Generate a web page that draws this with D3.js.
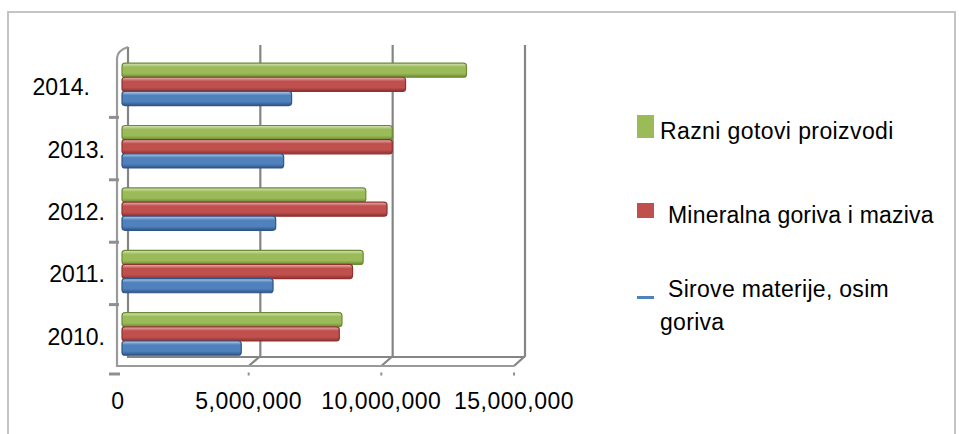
<!DOCTYPE html>
<html>
<head>
<meta charset="utf-8">
<script src="https://cdn.jsdelivr.net/npm/d3@7"></script>
<style>
  body { margin: 0; background: #fff; }
  text { font-family: "Liberation Sans", Arial, sans-serif; fill: #000; }
</style>
</head>
<body>
<svg id="chart" width="959" height="434"></svg>
<script>
// chart values
const years = ["2010.", "2011.", "2012.", "2013.", "2014."];
const seriesNames = ["Razni gotovi proizvodi", "Mineralna goriva i maziva", "Sirove materije, osim goriva"];
const razni = [8300000, 9100000, 9200000, 10200000, 13000000];
const mineralna = [8200000, 8700000, 10000000, 10200000, 10700000];
const sirove = [4500000, 5700000, 5800000, 6100000, 6400000];
const xTicks = [0, 5000000, 10000000, 15000000];

const colors = ["#9bbb59", "#c0504d", "#4f81bd"];
const lightC = ["#d7e4bd", "#e6b9b8", "#b9cde5"];
const darkC = ["#6b8a33", "#8e3230", "#2f5688"];

const svg = d3.select("#chart");

// outer frame
svg.append("rect")
    .attr("x", 8).attr("y", 12)
    .attr("width", 947).attr("height", 430)
    .attr("fill", "none")
    .attr("stroke", "#c4c4c4")
    .attr("stroke-width", 2);

// scales: back wall, bars (middle depth), front floor
const xBack = d3.scaleLinear().domain([0, 15000000]).range([128, 525]);
const xBar = d3.scaleLinear().domain([0, 15000000]).range([122, 519.5]);
const xFront = d3.scaleLinear().domain([0, 15000000]).range([116, 514]);
const y = d3.scaleBand().domain(years.slice().reverse()).range([55, 367]);
const ySub = d3.scaleBand().domain(d3.range(3)).range([0, y.bandwidth() * 0.68]);

const gridColor = "#858585";
const walls = svg.append("g").attr("fill", "none").attr("stroke", gridColor).attr("stroke-width", 2.2);

// back wall gridlines with floor diagonals
xTicks.forEach(function(t, i) {
    if (i === 0) return;
    walls.append("path")
        .attr("d", "M" + xBack(t) + ",45 L" + xBack(t) + ",356 L" + xFront(t) + ",366");
});
// left walls
walls.append("path").attr("d", "M128,47 L128,357 L525,357");
walls.append("path").attr("d", "M117,58 L117,366 L514,366").attr("stroke", "#9a9a9a");
walls.append("path").attr("d", "M117,58 Q118,50 128,47").attr("stroke", "#9a9a9a");

// small ticks on left side and bottom
const tickG = svg.append("g").attr("stroke", "#8f8f8f").attr("stroke-width", 3);
years.slice(0, 4).forEach(function(d) {
    tickG.append("line").attr("x1", 109).attr("x2", 119)
        .attr("y1", y(d)).attr("y2", y(d));
});
tickG.append("line").attr("x1", 109).attr("x2", 120).attr("y1", 374).attr("y2", 374);
xTicks.slice(1).forEach(function(t) {
    tickG.append("line").attr("x1", xFront(t) - 1).attr("x2", xFront(t) + 1)
        .attr("y1", 374).attr("y2", 374);
});

// gradients for cylinder-like bars
const defs = svg.append("defs");
colors.forEach(function(c, i) {
    const g = defs.append("linearGradient").attr("id", "grad" + i)
        .attr("x1", 0).attr("x2", 0).attr("y1", 0).attr("y2", 1);
    g.append("stop").attr("offset", "0%").attr("stop-color", lightC[i]);
    g.append("stop").attr("offset", "28%").attr("stop-color", c);
    g.append("stop").attr("offset", "72%").attr("stop-color", c);
    g.append("stop").attr("offset", "100%").attr("stop-color", darkC[i]);
});

const seriesValues = [razni, mineralna, sirove];
const barH = ySub.bandwidth();
const bars = svg.append("g");
years.forEach(function(yr, yi) {
    const top = y(yr) + y.bandwidth() * 0.13;
    seriesValues.forEach(function(vals, si) {
        bars.append("rect")
            .attr("x", xBar(0))
            .attr("y", top + ySub(si))
            .attr("width", xBar(vals[yi]) - xBar(0))
            .attr("height", barH)
            .attr("rx", 3).attr("ry", 3)
            .attr("fill", "url(#grad" + si + ")")
            .attr("stroke", darkC[si])
            .attr("stroke-width", 1.2);
    });
});

// year labels
svg.append("g").selectAll("text")
    .data(years)
    .join("text")
    .attr("x", d => d === "2014." ? 90 : 105)
    .attr("y", d => y(d) + y.bandwidth() / 2 + 9)
    .attr("text-anchor", "end")
    .attr("font-size", 23)
    .text(d => d);

// x tick labels
const fmt = d3.format(",");
svg.append("g").selectAll("text")
    .data(xTicks)
    .join("text")
    .attr("x", d => xFront(d) + (d === 0 ? 2 : 0))
    .attr("y", 409)
    .attr("text-anchor", "middle")
    .attr("font-size", 23)
    .attr("letter-spacing", 0.5)
    .text(d => fmt(d));

// legend
const leg = svg.append("g");
leg.append("rect").attr("x", 637).attr("y", 115).attr("width", 17).attr("height", 23).attr("fill", colors[0]);
leg.append("text").attr("x", 660).attr("y", 139).attr("font-size", 23).attr("letter-spacing", 0.4).text(seriesNames[0]);
leg.append("rect").attr("x", 637).attr("y", 203).attr("width", 17).attr("height", 15).attr("fill", colors[1]);
leg.append("text").attr("x", 668).attr("y", 223).attr("font-size", 23).attr("letter-spacing", 0.2).text(seriesNames[1]);
leg.append("rect").attr("x", 637).attr("y", 296).attr("width", 17).attr("height", 3).attr("fill", colors[2]);
const t3 = leg.append("text").attr("font-size", 23).attr("letter-spacing", 0.3);
t3.append("tspan").attr("x", 668).attr("y", 297).text("Sirove materije, osim");
t3.append("tspan").attr("x", 660).attr("y", 330).text("goriva");
</script>
</body>
</html>
